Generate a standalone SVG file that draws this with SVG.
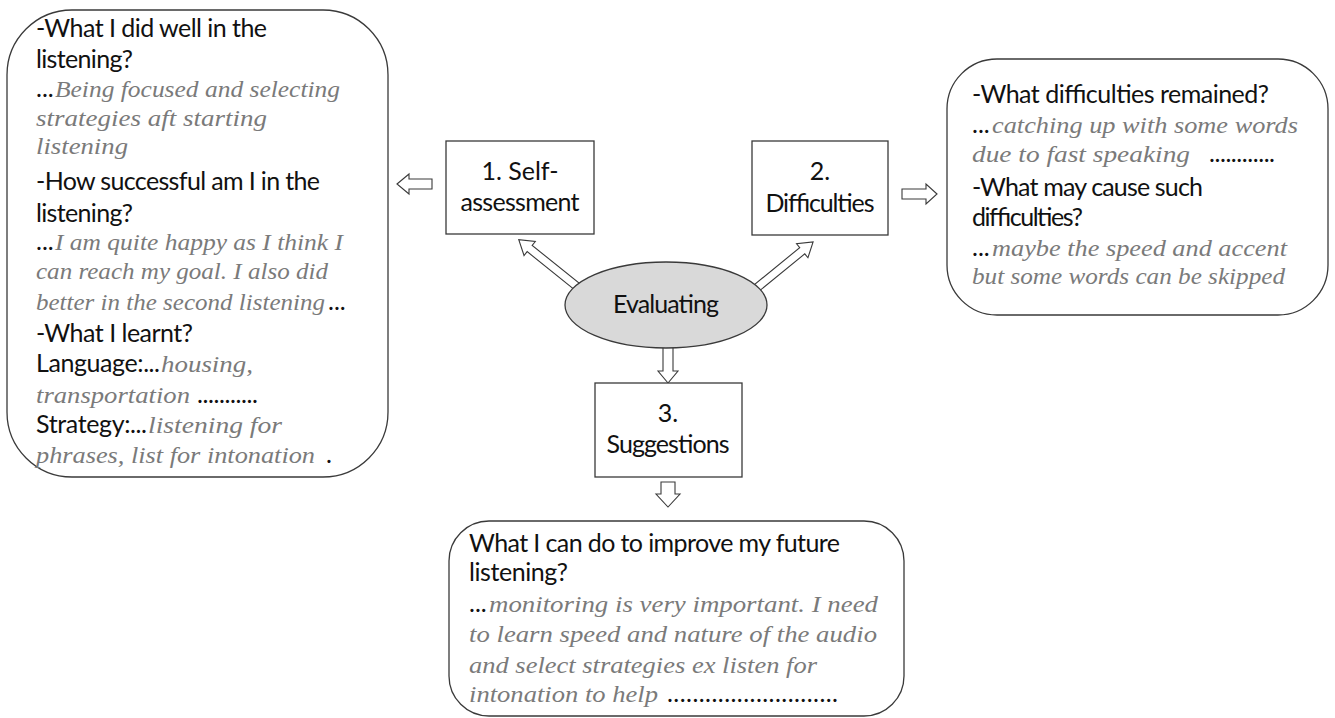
<svg xmlns="http://www.w3.org/2000/svg" width="1335" height="718" viewBox="0 0 1335 718">
<style>
.box{fill:#fff;stroke:#3a3a3a;stroke-width:1.3}
.arr{fill:#fff;stroke:#3a3a3a;stroke-width:1.1;stroke-linejoin:miter}
.t{font-family:Lato,"Liberation Sans",sans-serif;font-size:25px;fill:#111}
.c{text-anchor:middle}
.h{font-family:"Liberation Serif",serif;font-style:italic;font-size:24px;fill:#7a7a7a}
</style>
<rect width="1335" height="718" fill="#fff"/>
<g id="connectors">
<polygon class="arr" points="397,184 409,174 409,179 432,179 432,189 409,189 409,194"/>
<polygon class="arr" points="937,194 926,184 926,189 902,189 902,199 926,199 926,204"/>
<polygon class="arr" points="663,340 673,340 673,371 678,371 668,383 658,371 663,371"/>
<polygon class="arr" points="661,482 675,482 675,494 680,494 668,507 656,494 661,494"/>
<polygon class="arr" transform="translate(585,293) rotate(-141.2)" points="0,-4 71,-4 71,-9 85,0 71,9 71,4 0,4"/>
<polygon class="arr" transform="translate(748,295) rotate(-39.2)" points="0,-4 70,-4 70,-9 84,0 70,9 70,4 0,4"/>
</g>
<g id="evaluating">
<ellipse cx="666" cy="305" rx="101" ry="43" fill="#d9d9d9" stroke="#3a3a3a" stroke-width="1.3"/>
<text class="t c" x="666" y="313" textLength="106">Evaluating</text>
</g>
<g id="self-assessment">
<rect class="box" x="446" y="141" width="148" height="93"/>
<text class="t c" x="520" y="180">1. Self-</text>
<text class="t c" x="520" y="211" textLength="119">assessment</text>
</g>
<g id="difficulties">
<rect class="box" x="752" y="141" width="136" height="94"/>
<text class="t c" x="820" y="180">2.</text>
<text class="t c" x="820" y="212" textLength="109">Difficulties</text>
</g>
<g id="suggestions">
<rect class="box" x="595" y="383" width="147" height="94"/>
<text class="t c" x="668" y="422">3.</text>
<text class="t c" x="668" y="453" textLength="123">Suggestions</text>
</g>
<g id="self-assessment-notes">
<rect class="box" x="7" y="10" width="381" height="467" rx="65" ry="65"/>
<text class="t" x="36" y="37" textLength="231">-What I did well in the</text>
<text class="t" x="36" y="68" textLength="97">listening?</text>
<text class="t" x="36" y="97">...</text>
<text class="h" x="55" y="97" textLength="285" lengthAdjust="spacingAndGlyphs">Being focused and selecting</text>
<text class="h" x="36" y="126" textLength="231" lengthAdjust="spacingAndGlyphs">strategies  aft starting</text>
<text class="h" x="36" y="154" textLength="92" lengthAdjust="spacingAndGlyphs">listening</text>
<text class="t" x="36" y="190" textLength="284">-How successful am I in the</text>
<text class="t" x="36" y="222" textLength="97">listening?</text>
<text class="t" x="36" y="250">...</text>
<text class="h" x="55" y="250" textLength="288" lengthAdjust="spacingAndGlyphs">I am quite happy as I think I</text>
<text class="h" x="36" y="279" textLength="292" lengthAdjust="spacingAndGlyphs">can reach my goal. I also did</text>
<text class="h" x="36" y="310" textLength="289" lengthAdjust="spacingAndGlyphs">better in the second listening</text>
<text class="t" x="328" y="310">...</text>
<text class="t" x="36" y="342" textLength="157">-What I learnt?</text>
<text class="t" x="36" y="372" textLength="124">Language:...</text>
<text class="h" x="161" y="372" textLength="92" lengthAdjust="spacingAndGlyphs">housing,</text>
<text class="h" x="36" y="403" textLength="154" lengthAdjust="spacingAndGlyphs">transportation</text>
<text class="t" x="197" y="403" textLength="61">...........</text>
<text class="t" x="36" y="433" textLength="111">Strategy:...</text>
<text class="h" x="148" y="433" textLength="134" lengthAdjust="spacingAndGlyphs">listening for</text>
<text class="h" x="36" y="463" textLength="279" lengthAdjust="spacingAndGlyphs">phrases, list for intonation</text>
<text class="t" x="326" y="463">.</text>
</g>
<g id="difficulties-notes">
<rect class="box" x="947" y="59" width="381" height="256" rx="50" ry="50"/>
<text class="t" x="972" y="103" textLength="297">-What difficulties remained?</text>
<text class="t" x="972" y="133">...</text>
<text class="h" x="992" y="133" textLength="306" lengthAdjust="spacingAndGlyphs">catching up with some words</text>
<text class="h" x="972" y="162" textLength="218" lengthAdjust="spacingAndGlyphs">due to fast speaking</text>
<text class="t" x="1209" y="162" textLength="66">............</text>
<text class="t" x="972" y="196" textLength="231">-What may cause such</text>
<text class="t" x="972" y="226" textLength="111">difficulties?</text>
<text class="t" x="972" y="256">...</text>
<text class="h" x="992" y="256" textLength="295" lengthAdjust="spacingAndGlyphs">maybe the speed and accent</text>
<text class="h" x="972" y="284" textLength="313" lengthAdjust="spacingAndGlyphs">but some words can be skipped</text>
</g>
<g id="suggestions-notes">
<rect class="box" x="449" y="521" width="455" height="195" rx="40" ry="40"/>
<text class="t" x="469" y="552" textLength="371">What I can do to improve my future</text>
<text class="t" x="469" y="581" textLength="99">listening?</text>
<text class="t" x="469" y="612">...</text>
<text class="h" x="489" y="612" textLength="389" lengthAdjust="spacingAndGlyphs">monitoring is very important. I need</text>
<text class="h" x="469" y="642" textLength="408" lengthAdjust="spacingAndGlyphs">to learn speed and nature  of the audio</text>
<text class="h" x="469" y="673" textLength="348" lengthAdjust="spacingAndGlyphs">and select strategies ex listen for</text>
<text class="h" x="469" y="702" textLength="189" lengthAdjust="spacingAndGlyphs">intonation to help</text>
<text class="t" x="667" y="702" textLength="171">...........................</text>
</g>
</svg>
